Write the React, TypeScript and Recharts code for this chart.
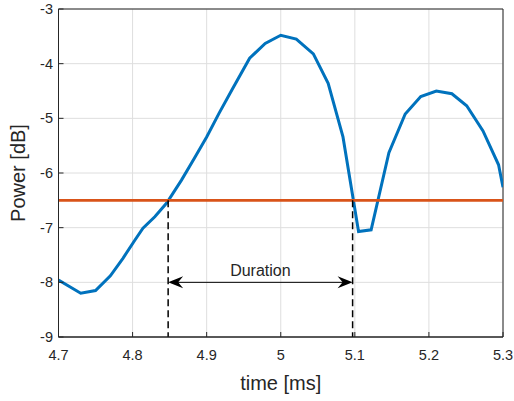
import React from 'react';
import {
  ComposedChart,
  Line,
  Scatter,
  XAxis,
  YAxis,
  CartesianGrid,
  ReferenceLine,
  ReferenceArea,
} from 'recharts';

const timeMs = [
  4.7, 4.73, 4.75, 4.77, 4.787, 4.803, 4.814, 4.83, 4.846, 4.866, 4.883, 4.9, 4.917, 4.934,
  4.958, 4.979, 5.0, 5.021, 5.044, 5.064, 5.084, 5.105, 5.122, 5.146, 5.168, 5.189, 5.21,
  5.231, 5.251, 5.273, 5.294, 5.3,
];
const powerDb = [
  -7.96, -8.2, -8.15, -7.88, -7.56, -7.23, -7.01, -6.8, -6.55, -6.13, -5.74, -5.34, -4.9, -4.48,
  -3.9, -3.63, -3.48, -3.55, -3.82, -4.36, -5.34, -7.07, -7.04, -5.63, -4.92, -4.6, -4.5,
  -4.55, -4.77, -5.23, -5.85, -6.26,
];

const threshold = -6.5;
const durationStart = 4.848;
const durationEnd = 5.097;
const arrowLevel = -8;

const xTicks = [4.7, 4.8, 4.9, 5, 5.1, 5.2, 5.3];
const yTicks = [-9, -8, -7, -6, -5, -4, -3];

const signal = timeMs.map((t, i) => ({ t, p: powerDb[i] }));
const arrowHeads = [
  { t: durationStart, p: arrowLevel, dir: -1 },
  { t: durationEnd, p: arrowLevel, dir: 1 },
];

const textColor = '#262626';
const font = 'Arial, "Liberation Sans", Helvetica, sans-serif';

const ArrowHead = (props: any) => {
  const { cx, cy, payload } = props;
  const d = payload.dir;
  const path = `M${cx},${cy} L${cx - 15 * d},${cy - 6} L${cx - 10 * d},${cy} L${cx - 15 * d},${cy + 6} Z`;
  return <path d={path} fill="#000" />;
};

export default function App() {
  return (
    <div style={{ position: 'absolute', left: 0, top: 0, background: '#fff', fontFamily: font }}>
      <ComposedChart width={514} height={401} margin={{ top: 9, right: 11, bottom: 0, left: 0 }}>
        <CartesianGrid stroke="#dedede" strokeWidth={1} />
        <XAxis
          dataKey="t"
          type="number"
          domain={[4.7, 5.3]}
          ticks={xTicks}
          allowDataOverflow
          height={64}
          axisLine={{ stroke: textColor }}
          tickLine={{ stroke: textColor }}
          tickSize={-5}
          tickMargin={18}
          tick={{ fill: textColor, fontSize: 14.5, fontFamily: font }}
          label={{ value: 'time [ms]', position: 'insideBottom', offset: 11, fill: textColor, fontSize: 20, fontFamily: font }}
        />
        <XAxis
          xAxisId="top"
          orientation="top"
          type="number"
          domain={[4.7, 5.3]}
          ticks={xTicks}
          allowDataOverflow
          height={0}
          axisLine={false}
          tickLine={{ stroke: textColor }}
          tickSize={5}
          tick={false}
        />
        <YAxis
          type="number"
          domain={[-9, -3]}
          ticks={yTicks}
          allowDataOverflow
          width={58.5}
          axisLine={{ stroke: textColor }}
          tickLine={{ stroke: textColor }}
          tickSize={-5}
          tickMargin={10.5}
          tick={{ fill: textColor, fontSize: 14.5, fontFamily: font }}
          label={{
            value: 'Power [dB]',
            angle: -90,
            position: 'insideLeft',
            offset: 18,
            fill: textColor,
            fontSize: 20,
            fontFamily: font,
            style: { textAnchor: 'middle' },
          }}
        />
        <YAxis
          yAxisId="right"
          orientation="right"
          type="number"
          domain={[-9, -3]}
          ticks={yTicks}
          allowDataOverflow
          width={0}
          axisLine={false}
          tickLine={{ stroke: textColor }}
          tickSize={5}
          tick={false}
        />
        <ReferenceArea x1={4.7} x2={5.3} y1={-9} y2={-3} fill="none" stroke={textColor} strokeWidth={1} />
        <Line
          data={signal}
          dataKey="p"
          type="linear"
          stroke="#0072BD"
          strokeWidth={3}
          dot={false}
          activeDot={false}
          isAnimationActive={false}
        />
        <ReferenceLine y={threshold} stroke="#D95319" strokeWidth={2.8} />
        <ReferenceLine
          segment={[{ x: durationStart, y: threshold }, { x: durationStart, y: -9 }]}
          stroke="#000"
          strokeWidth={1.5}
          strokeDasharray="7 4"
        />
        <ReferenceLine
          segment={[{ x: durationEnd, y: threshold }, { x: durationEnd, y: -9 }]}
          stroke="#000"
          strokeWidth={1.5}
          strokeDasharray="7 4"
        />
        <ReferenceLine
          segment={[{ x: durationStart + 0.01, y: arrowLevel }, { x: durationEnd - 0.01, y: arrowLevel }]}
          stroke="#000"
          strokeWidth={1}
          label={{ value: 'Duration', position: 'top', offset: 6, fill: textColor, fontSize: 16, fontFamily: font }}
        />
        <Scatter data={arrowHeads} dataKey="p" shape={<ArrowHead />} isAnimationActive={false} />
      </ComposedChart>
    </div>
  );
}
